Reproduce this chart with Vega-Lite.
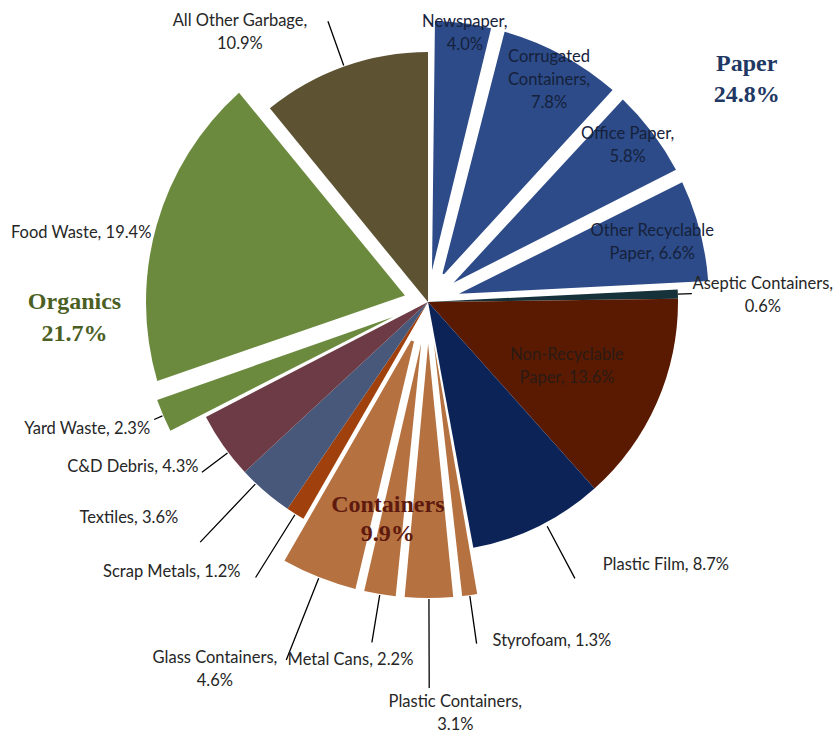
{
  "$schema": "https://vega.github.io/schema/vega-lite/v6.json",
  "width": 818,
  "height": 604,
  "autosize": {"type": "none"},
  "padding": {"left": 19, "top": 0, "right": 0, "bottom": 129},
  "background": "white",
  "config": {"view": {"stroke": null}, "text": {"font": "Lato", "fontSize": 16.5}},
  "data": {
    "values": [
      {"name": "Newspaper", "value": 4.0, "group": "Paper", "label": "Newspaper,|4.0%"},
      {"name": "Corrugated Containers", "value": 7.8, "group": "Paper", "label": "Corrugated|Containers,|7.8%"},
      {"name": "Office Paper", "value": 5.8, "group": "Paper", "label": "Office Paper,|5.8%"},
      {"name": "Other Recyclable Paper", "value": 6.6, "group": "Paper", "label": "Other Recyclable|Paper, 6.6%"},
      {"name": "Aseptic Containers", "value": 0.6, "group": "Paper", "label": "Aseptic Containers,|0.6%"},
      {"name": "Non-Recyclable Paper", "value": 13.6, "group": "Other", "label": "Non-Recyclable|Paper, 13.6%"},
      {"name": "Plastic Film", "value": 8.7, "group": "Other", "label": "Plastic Film, 8.7%"},
      {"name": "Styrofoam", "value": 1.3, "group": "Other", "label": "Styrofoam, 1.3%"},
      {"name": "Plastic Containers", "value": 3.1, "group": "Containers", "label": "Plastic Containers,|3.1%"},
      {"name": "Metal Cans", "value": 2.2, "group": "Containers", "label": "Metal Cans, 2.2%"},
      {"name": "Glass Containers", "value": 4.6, "group": "Containers", "label": "Glass Containers,|4.6%"},
      {"name": "Scrap Metals", "value": 1.2, "group": "Other", "label": "Scrap Metals, 1.2%"},
      {"name": "Textiles", "value": 3.6, "group": "Other", "label": "Textiles, 3.6%"},
      {"name": "C&D Debris", "value": 4.3, "group": "Other", "label": "C&D Debris, 4.3%"},
      {"name": "Yard Waste", "value": 2.3, "group": "Organics", "label": "Yard Waste, 2.3%"},
      {"name": "Food Waste", "value": 19.4, "group": "Organics", "label": "Food Waste, 19.4%"},
      {"name": "All Other Garbage", "value": 10.9, "group": "Other", "label": "All Other Garbage,|10.9%"}
    ]
  },
  "transform": [
    {"window": [{"op": "sum", "field": "value", "as": "v1"}], "frame": [null, 0]},
    {"calculate": "datum.v1 - datum.value", "as": "v0"},
    {"calculate": "(datum.v0 + datum.v1) / 2", "as": "mid"}
  ],
  "layer": [
    {
      "transform": [{"filter": {"field": "name", "oneOf": ["Aseptic Containers", "Non-Recyclable Paper", "Plastic Film", "Scrap Metals", "Textiles", "C&D Debris", "All Other Garbage"]}}],
      "mark": {"type": "arc", "radius": 250},
      "encoding": {
        "theta": {"field": "v0", "type": "quantitative", "stack": null, "scale": {"domain": [0, 100], "range": [0, 6.283185307179586]}},
        "theta2": {"field": "v1"},
        "color": {"field": "name", "type": "nominal", "legend": null,
          "scale": {"domain": ["Newspaper", "Corrugated Containers", "Office Paper", "Other Recyclable Paper", "Aseptic Containers", "Non-Recyclable Paper", "Plastic Film", "Styrofoam", "Plastic Containers", "Metal Cans", "Glass Containers", "Scrap Metals", "Textiles", "C&D Debris", "Yard Waste", "Food Waste", "All Other Garbage"],
                    "range": ["#2C4B88", "#2C4B88", "#2C4B88", "#2C4B88", "#15313A", "#5A1A02", "#0C2357", "#B5713F", "#B5713F", "#B5713F", "#B5713F", "#A0400C", "#47587A", "#6D3B45", "#6B8A3E", "#6B8A3E", "#5D5333"]}}
      }
    },
    {
      "transform": [{"filter": {"field": "name", "oneOf": ["Newspaper", "Corrugated Containers", "Office Paper", "Other Recyclable Paper"]}}],
      "mark": {"type": "arc", "radius": 281, "radius2": 32, "padAngle": 0.0492},
      "encoding": {
        "theta": {"field": "v0", "type": "quantitative", "stack": null, "scale": {"domain": [0, 100], "range": [0, 6.283185307179586]}},
        "theta2": {"field": "v1"},
        "color": {"field": "name", "type": "nominal", "legend": null}
      }
    },
    {
      "transform": [{"filter": "datum.name === 'Food Waste'"}],
      "mark": {"type": "arc", "radius": 282, "radius2": 24, "padAngle": 0.0984},
      "encoding": {
        "theta": {"field": "v0", "type": "quantitative", "stack": null, "scale": {"domain": [0, 100], "range": [0, 6.283185307179586]}},
        "theta2": {"field": "v1"},
        "color": {"field": "name", "type": "nominal", "legend": null}
      }
    },
    {
      "transform": [{"filter": "datum.name === 'Yard Waste'"}],
      "mark": {"type": "arc", "radius": 288, "radius2": 38, "padAngle": 0.0275},
      "encoding": {
        "theta": {"field": "v0", "type": "quantitative", "stack": null, "scale": {"domain": [0, 100], "range": [0, 6.283185307179586]}},
        "theta2": {"field": "v1"},
        "color": {"field": "name", "type": "nominal", "legend": null}
      }
    },
    {
      "transform": [{"filter": {"field": "name", "oneOf": ["Styrofoam", "Plastic Containers", "Metal Cans", "Glass Containers"]}}],
      "mark": {"type": "arc", "radius": 296, "radius2": 42, "padAngle": 0.0301},
      "encoding": {
        "theta": {"field": "v0", "type": "quantitative", "stack": null, "scale": {"domain": [0, 100], "range": [0, 6.283185307179586]}},
        "theta2": {"field": "v1"},
        "color": {"field": "name", "type": "nominal", "legend": null}
      }
    },
    {"transform": [{"filter": "datum.name === 'Aseptic Containers'"}], "mark": {"type": "arc", "radius": 264, "radius2": 250, "stroke": "#000", "strokeWidth": 1.3, "fillOpacity": 0}, "encoding": {"theta": {"field": "mid", "type": "quantitative", "stack": null, "scale": {"domain": [0, 100], "range": [0, 6.283185307179586]}}, "theta2": {"field": "mid"}}},
    {"transform": [{"filter": "datum.name === 'Plastic Film'"}], "mark": {"type": "arc", "radius": 313, "radius2": 254, "thetaOffset": -0.033, "theta2Offset": -0.033, "stroke": "#000", "strokeWidth": 1.3, "fillOpacity": 0}, "encoding": {"theta": {"field": "mid", "type": "quantitative", "stack": null, "scale": {"domain": [0, 100], "range": [0, 6.283185307179586]}}, "theta2": {"field": "mid"}}},
    {"transform": [{"filter": "datum.name === 'Styrofoam'"}], "mark": {"type": "arc", "radius": 345, "radius2": 297, "stroke": "#000", "strokeWidth": 1.3, "fillOpacity": 0}, "encoding": {"theta": {"field": "mid", "type": "quantitative", "stack": null, "scale": {"domain": [0, 100], "range": [0, 6.283185307179586]}}, "theta2": {"field": "mid"}}},
    {"transform": [{"filter": "datum.name === 'Plastic Containers'"}], "mark": {"type": "arc", "radius": 386, "radius2": 297, "stroke": "#000", "strokeWidth": 1.3, "fillOpacity": 0}, "encoding": {"theta": {"field": "mid", "type": "quantitative", "stack": null, "scale": {"domain": [0, 100], "range": [0, 6.283185307179586]}}, "theta2": {"field": "mid"}}},
    {"transform": [{"filter": "datum.name === 'Metal Cans'"}], "mark": {"type": "arc", "radius": 345, "radius2": 297, "stroke": "#000", "strokeWidth": 1.3, "fillOpacity": 0}, "encoding": {"theta": {"field": "mid", "type": "quantitative", "stack": null, "scale": {"domain": [0, 100], "range": [0, 6.283185307179586]}}, "theta2": {"field": "mid"}}},
    {"transform": [{"filter": "datum.name === 'Glass Containers'"}], "mark": {"type": "arc", "radius": 385, "radius2": 297, "stroke": "#000", "strokeWidth": 1.3, "fillOpacity": 0}, "encoding": {"theta": {"field": "mid", "type": "quantitative", "stack": null, "scale": {"domain": [0, 100], "range": [0, 6.283185307179586]}}, "theta2": {"field": "mid"}}},
    {"transform": [{"filter": "datum.name === 'Scrap Metals'"}], "mark": {"type": "arc", "radius": 325, "radius2": 251, "stroke": "#000", "strokeWidth": 1.3, "fillOpacity": 0}, "encoding": {"theta": {"field": "mid", "type": "quantitative", "stack": null, "scale": {"domain": [0, 100], "range": [0, 6.283185307179586]}}, "theta2": {"field": "mid"}}},
    {"transform": [{"filter": "datum.name === 'Textiles'"}], "mark": {"type": "arc", "radius": 331, "radius2": 251, "thetaOffset": 0.049, "theta2Offset": 0.049, "stroke": "#000", "strokeWidth": 1.3, "fillOpacity": 0}, "encoding": {"theta": {"field": "mid", "type": "quantitative", "stack": null, "scale": {"domain": [0, 100], "range": [0, 6.283185307179586]}}, "theta2": {"field": "mid"}}},
    {"transform": [{"filter": "datum.name === 'C&D Debris'"}], "mark": {"type": "arc", "radius": 283, "radius2": 251, "thetaOffset": -0.033, "theta2Offset": -0.033, "stroke": "#000", "strokeWidth": 1.3, "fillOpacity": 0}, "encoding": {"theta": {"field": "mid", "type": "quantitative", "stack": null, "scale": {"domain": [0, 100], "range": [0, 6.283185307179586]}}, "theta2": {"field": "mid"}}},
    {"transform": [{"filter": "datum.name === 'Yard Waste'"}], "mark": {"type": "arc", "radius": 298, "radius2": 289, "stroke": "#000", "strokeWidth": 1.3, "fillOpacity": 0}, "encoding": {"theta": {"field": "mid", "type": "quantitative", "stack": null, "scale": {"domain": [0, 100], "range": [0, 6.283185307179586]}}, "theta2": {"field": "mid"}}},
    {"transform": [{"filter": "datum.name === 'All Other Garbage'"}], "mark": {"type": "arc", "radius": 298, "radius2": 251, "stroke": "#000", "strokeWidth": 1.3, "fillOpacity": 0}, "encoding": {"theta": {"field": "mid", "type": "quantitative", "stack": null, "scale": {"domain": [0, 100], "range": [0, 6.283185307179586]}}, "theta2": {"field": "mid"}}},

    {"transform": [{"filter": "datum.name === 'Newspaper'"}], "mark": {"type": "text", "radius": 270, "dx": 3, "dy": -12, "align": "center", "baseline": "middle", "lineBreak": "|", "lineHeight": 23, "fill": "#16213B"}, "encoding": {"theta": {"field": "mid", "type": "quantitative", "stack": null, "scale": {"domain": [0, 100], "range": [0, 6.283185307179586]}}, "text": {"field": "label"}}},
    {"transform": [{"filter": "datum.name === 'Corrugated Containers'"}], "mark": {"type": "text", "radius": 252, "dx": 1, "dy": -23, "align": "center", "baseline": "middle", "lineBreak": "|", "lineHeight": 23, "fill": "#16213B"}, "encoding": {"theta": {"field": "mid", "type": "quantitative", "stack": null, "scale": {"domain": [0, 100], "range": [0, 6.283185307179586]}}, "text": {"field": "label"}}},
    {"transform": [{"filter": "datum.name === 'Office Paper'"}], "mark": {"type": "text", "radius": 254, "dx": -3, "dy": -15, "align": "center", "baseline": "middle", "lineBreak": "|", "lineHeight": 23, "fill": "#16213B"}, "encoding": {"theta": {"field": "mid", "type": "quantitative", "stack": null, "scale": {"domain": [0, 100], "range": [0, 6.283185307179586]}}, "text": {"field": "label"}}},
    {"transform": [{"filter": "datum.name === 'Other Recyclable Paper'"}], "mark": {"type": "text", "radius": 234, "dx": -2, "dy": -11, "align": "center", "baseline": "middle", "lineBreak": "|", "lineHeight": 23, "fill": "#16213B"}, "encoding": {"theta": {"field": "mid", "type": "quantitative", "stack": null, "scale": {"domain": [0, 100], "range": [0, 6.283185307179586]}}, "text": {"field": "label"}}},
    {"transform": [{"filter": "datum.name === 'Aseptic Containers'"}], "mark": {"type": "text", "radius": 335, "dx": 0, "dy": -7, "align": "center", "baseline": "middle", "lineBreak": "|", "lineHeight": 23, "fill": "#262626"}, "encoding": {"theta": {"field": "mid", "type": "quantitative", "stack": null, "scale": {"domain": [0, 100], "range": [0, 6.283185307179586]}}, "text": {"field": "label"}}},
    {"transform": [{"filter": "datum.name === 'Non-Recyclable Paper'"}], "mark": {"type": "text", "radius": 153, "dx": -1, "dy": -9, "align": "center", "baseline": "middle", "lineBreak": "|", "lineHeight": 23, "fill": "#2A1A14"}, "encoding": {"theta": {"field": "mid", "type": "quantitative", "stack": null, "scale": {"domain": [0, 100], "range": [0, 6.283185307179586]}}, "text": {"field": "label"}}},
    {"transform": [{"filter": "datum.name === 'Plastic Film'"}], "mark": {"type": "text", "radius": 313, "dx": 37, "dy": -18, "align": "left", "baseline": "middle", "lineBreak": "|", "lineHeight": 23, "fill": "#262626"}, "encoding": {"theta": {"field": "mid", "type": "quantitative", "stack": null, "scale": {"domain": [0, 100], "range": [0, 6.283185307179586]}}, "text": {"field": "label"}}},
    {"transform": [{"filter": "datum.name === 'Styrofoam'"}], "mark": {"type": "text", "radius": 345, "dx": 16, "dy": -3, "align": "left", "baseline": "middle", "lineBreak": "|", "lineHeight": 23, "fill": "#262626"}, "encoding": {"theta": {"field": "mid", "type": "quantitative", "stack": null, "scale": {"domain": [0, 100], "range": [0, 6.283185307179586]}}, "text": {"field": "label"}}},
    {"transform": [{"filter": "datum.name === 'Plastic Containers'"}], "mark": {"type": "text", "radius": 412, "dx": 26, "dy": -12, "align": "center", "baseline": "middle", "lineBreak": "|", "lineHeight": 23, "fill": "#262626"}, "encoding": {"theta": {"field": "mid", "type": "quantitative", "stack": null, "scale": {"domain": [0, 100], "range": [0, 6.283185307179586]}}, "text": {"field": "label"}}},
    {"transform": [{"filter": "datum.name === 'Metal Cans'"}], "mark": {"type": "text", "radius": 366, "dx": -18, "dy": -3, "align": "center", "baseline": "middle", "lineBreak": "|", "lineHeight": 23, "fill": "#262626"}, "encoding": {"theta": {"field": "mid", "type": "quantitative", "stack": null, "scale": {"domain": [0, 100], "range": [0, 6.283185307179586]}}, "text": {"field": "label"}}},
    {"transform": [{"filter": "datum.name === 'Glass Containers'"}], "mark": {"type": "text", "radius": 424, "dx": -57, "dy": -38, "align": "center", "baseline": "middle", "lineBreak": "|", "lineHeight": 23, "fill": "#262626"}, "encoding": {"theta": {"field": "mid", "type": "quantitative", "stack": null, "scale": {"domain": [0, 100], "range": [0, 6.283185307179586]}}, "text": {"field": "label"}}},
    {"transform": [{"filter": "datum.name === 'Scrap Metals'"}], "mark": {"type": "text", "radius": 329, "dx": -13, "dy": -9, "align": "right", "baseline": "middle", "lineBreak": "|", "lineHeight": 23, "fill": "#262626"}, "encoding": {"theta": {"field": "mid", "type": "quantitative", "stack": null, "scale": {"domain": [0, 100], "range": [0, 6.283185307179586]}}, "text": {"field": "label"}}},
    {"transform": [{"filter": "datum.name === 'Textiles'"}], "mark": {"type": "text", "radius": 331, "dx": -34, "dy": -35, "align": "right", "baseline": "middle", "lineBreak": "|", "lineHeight": 23, "fill": "#262626"}, "encoding": {"theta": {"field": "mid", "type": "quantitative", "stack": null, "scale": {"domain": [0, 100], "range": [0, 6.283185307179586]}}, "text": {"field": "label"}}},
    {"transform": [{"filter": "datum.name === 'C&D Debris'"}], "mark": {"type": "text", "radius": 283, "dx": 2, "dy": 2, "align": "right", "baseline": "middle", "lineBreak": "|", "lineHeight": 23, "fill": "#262626"}, "encoding": {"theta": {"field": "mid", "type": "quantitative", "stack": null, "scale": {"domain": [0, 100], "range": [0, 6.283185307179586]}}, "text": {"field": "label"}}},
    {"transform": [{"filter": "datum.name === 'Yard Waste'"}], "mark": {"type": "text", "radius": 298, "dx": -4, "dy": 10, "align": "right", "baseline": "middle", "lineBreak": "|", "lineHeight": 23, "fill": "#262626"}, "encoding": {"theta": {"field": "mid", "type": "quantitative", "stack": null, "scale": {"domain": [0, 100], "range": [0, 6.283185307179586]}}, "text": {"field": "label"}}},
    {"transform": [{"filter": "datum.name === 'Food Waste'"}], "mark": {"type": "text", "radius": 300, "dx": 12, "dy": 13, "align": "right", "baseline": "middle", "lineBreak": "|", "lineHeight": 23, "fill": "#262626"}, "encoding": {"theta": {"field": "mid", "type": "quantitative", "stack": null, "scale": {"domain": [0, 100], "range": [0, 6.283185307179586]}}, "text": {"field": "label"}}},
    {"transform": [{"filter": "datum.name === 'All Other Garbage'"}], "mark": {"type": "text", "radius": 298, "dx": -88, "dy": 0, "align": "center", "baseline": "middle", "lineBreak": "|", "lineHeight": 23, "fill": "#262626"}, "encoding": {"theta": {"field": "mid", "type": "quantitative", "stack": null, "scale": {"domain": [0, 100], "range": [0, 6.283185307179586]}}, "text": {"field": "label"}}},

    {
      "transform": [
        {"filter": "datum.group === 'Paper'"},
        {"aggregate": [{"op": "min", "field": "v0", "as": "g0"}, {"op": "max", "field": "v1", "as": "g1"}, {"op": "sum", "field": "value", "as": "total"}], "groupby": ["group"]},
        {"calculate": "(datum.g0 + datum.g1) / 2", "as": "gm"},
        {"calculate": "[datum.group, format(datum.total, '.1f') + '%']", "as": "glabel"}
      ],
      "mark": {"type": "text", "radius": 388, "dx": 46, "dy": 38, "align": "center", "baseline": "middle", "font": "Liberation Serif", "fontWeight": "bold", "fontSize": 24, "lineHeight": 31, "fill": "#1F3864"},
      "encoding": {"theta": {"field": "gm", "type": "quantitative", "stack": null, "scale": {"domain": [0, 100], "range": [0, 6.283185307179586]}}, "text": {"field": "glabel"}}
    },
    {
      "transform": [
        {"filter": "datum.group === 'Containers'"},
        {"aggregate": [{"op": "min", "field": "v0", "as": "g0"}, {"op": "max", "field": "v1", "as": "g1"}, {"op": "sum", "field": "value", "as": "total"}], "groupby": ["group"]},
        {"calculate": "(datum.g0 + datum.g1) / 2", "as": "gm"},
        {"calculate": "[datum.group, format(datum.total, '.1f') + '%']", "as": "glabel"}
      ],
      "mark": {"type": "text", "radius": 221, "dx": 6, "dy": -13, "align": "center", "baseline": "middle", "font": "Liberation Serif", "fontWeight": "bold", "fontSize": 24, "lineHeight": 29, "fill": "#5E1A0E"},
      "encoding": {"theta": {"field": "gm", "type": "quantitative", "stack": null, "scale": {"domain": [0, 100], "range": [0, 6.283185307179586]}}, "text": {"field": "glabel"}}
    },
    {
      "transform": [
        {"filter": "datum.group === 'Organics'"},
        {"aggregate": [{"op": "min", "field": "v0", "as": "g0"}, {"op": "max", "field": "v1", "as": "g1"}, {"op": "sum", "field": "value", "as": "total"}], "groupby": ["group"]},
        {"calculate": "(datum.g0 + datum.g1) / 2", "as": "gm"},
        {"calculate": "[datum.group, format(datum.total, '.1f') + '%']", "as": "glabel"}
      ],
      "mark": {"type": "text", "radius": 361, "dx": 0, "dy": 73, "align": "center", "baseline": "middle", "font": "Liberation Serif", "fontWeight": "bold", "fontSize": 24, "lineHeight": 32, "fill": "#4B5F24"},
      "encoding": {"theta": {"field": "gm", "type": "quantitative", "stack": null, "scale": {"domain": [0, 100], "range": [0, 6.283185307179586]}}, "text": {"field": "glabel"}}
    }
  ]
}
